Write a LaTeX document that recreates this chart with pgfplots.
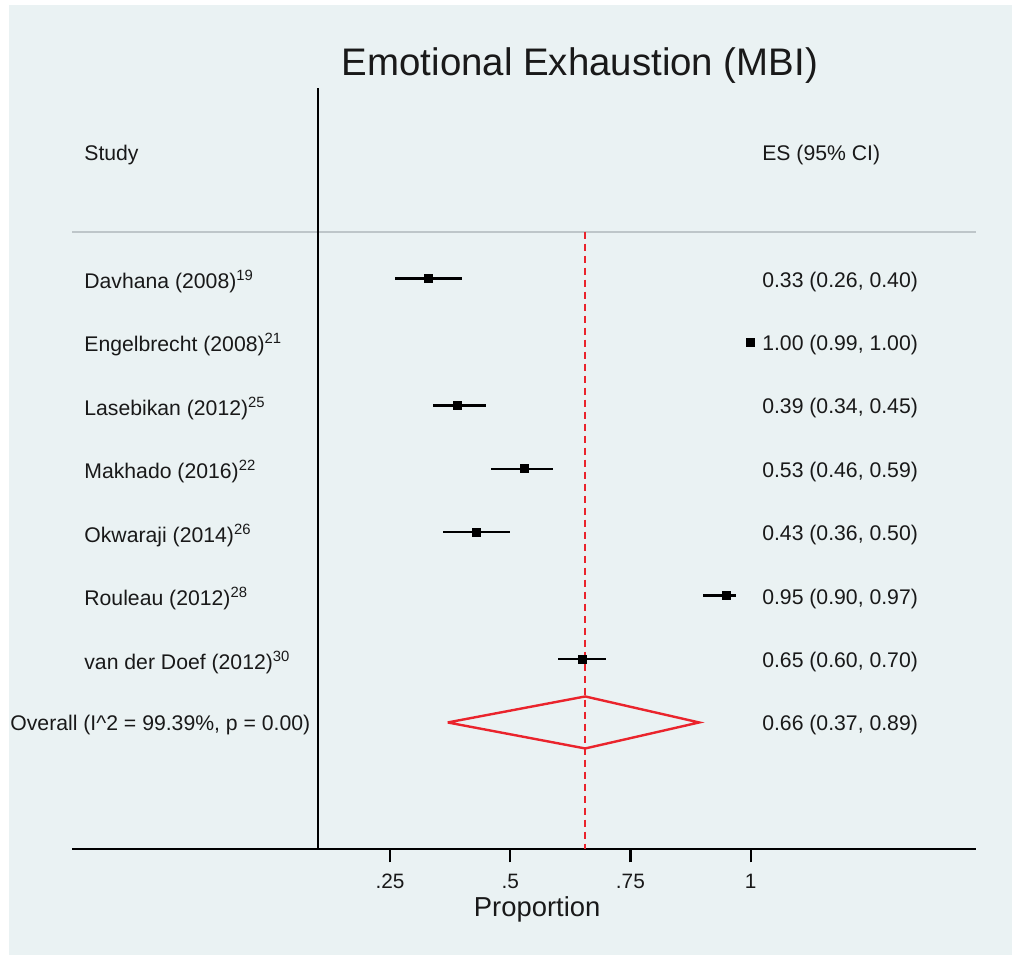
\documentclass[border=0pt]{standalone}
\usepackage{pgfplots}
\pgfplotsset{compat=1.18}
\usepackage{pgfplotstable}
\usepackage{fontspec}
\setmainfont{Liberation Sans}
\definecolor{bgblue}{RGB}{234,242,243}
\definecolor{sred}{RGB}{234,36,44}
\definecolor{sgray}{RGB}{190,198,201}
\definecolor{txt}{RGB}{25,25,25}

\pgfplotstableread{
row es em ep
-2 0.33 0.07 0.07
-3 1.00 0.01 0.00
-4 0.39 0.05 0.06
-5 0.53 0.07 0.06
-6 0.43 0.07 0.07
-7 0.95 0.05 0.02
-8 0.65 0.05 0.05
}\studies

\begin{document}
\begin{tikzpicture}
\fill[white] (-36.15pt,-53.85pt) rectangle (472.85pt,424.65pt);
\fill[bgblue] (-31.65pt,-52.85pt) rectangle (469.85pt,422.15pt);
\begin{axis}[
  at={(0,0)}, anchor=south west, scale only axis,
  width=451.85pt, height=380.5pt,
  xmin=-0.4108, xmax=1.4688, ymin=-11, ymax=1,
  clip=false,
  axis x line*=bottom, axis y line=none,
  axis line style={black, line width=1.1pt},
  xtick={0.25,0.5,0.75,1}, xticklabels={.25,.5,.75,1},
  ytick=\empty,
  tick align=outside, major tick length=6.5pt,
  tick style={black, line width=1.1pt},
  xticklabel style={font=\fontsize{10.4}{12}\selectfont, text=txt, yshift=-2.5pt},
  /pgf/number format/assume math mode=true,
]
% gray header line
\addplot[sgray, line width=1pt] coordinates {(-0.4108,-1.26) (1.4688,-1.26)};
% black vertical line
\addplot[black, line width=1.1pt] coordinates {(0.1,1) (0.1,-11)};
% red dashed overall line
\addplot[sred, line width=1.2pt, dash pattern=on 3.5pt off 2.5pt] coordinates {(0.656,-1.26) (0.656,-11)};
% studies
\addplot[black, only marks, mark=square*, mark size=2pt,
  error bars/.cd, x dir=both, x explicit, error mark=none,
  error bar style={black, line width=1.25pt}]
  table[x=es, y=row, x error minus=em, x error plus=ep] {\studies};
% overall diamond
\addplot[sred, line width=1.2pt, line join=miter] coordinates {(0.37,-9) (0.656,-8.59) (0.893,-9) (0.656,-9.41) (0.37,-9)};

\begin{scope}[every node/.style={font=\fontsize{10.6}{12}\selectfont, text=txt, anchor=west, inner sep=0pt, yshift=-1.5pt}]
\node at (axis cs:-0.3865,0) {Study};
\node at (axis cs:1.0235,0) {ES (95\% CI)};
\node at (axis cs:-0.3865,-2) {Davhana (2008)\textsuperscript{19}};
\node at (axis cs:-0.3865,-3) {Engelbrecht (2008)\textsuperscript{21}};
\node at (axis cs:-0.3865,-4) {Lasebikan (2012)\textsuperscript{25}};
\node at (axis cs:-0.3865,-5) {Makhado (2016)\textsuperscript{22}};
\node at (axis cs:-0.3865,-6) {Okwaraji (2014)\textsuperscript{26}};
\node at (axis cs:-0.3865,-7) {Rouleau (2012)\textsuperscript{28}};
\node at (axis cs:-0.3865,-8) {van der Doef (2012)\textsuperscript{30}};
\node at (axis cs:-0.5404,-9) {Overall (I\^{}2 = 99.39\%, p = 0.00)};
\node at (axis cs:1.0235,-2) {0.33 (0.26, 0.40)};
\node at (axis cs:1.0235,-3) {1.00 (0.99, 1.00)};
\node at (axis cs:1.0235,-4) {0.39 (0.34, 0.45)};
\node at (axis cs:1.0235,-5) {0.53 (0.46, 0.59)};
\node at (axis cs:1.0235,-6) {0.43 (0.36, 0.50)};
\node at (axis cs:1.0235,-7) {0.95 (0.90, 0.97)};
\node at (axis cs:1.0235,-8) {0.65 (0.60, 0.70)};
\node at (axis cs:1.0235,-9) {0.66 (0.37, 0.89)};
\end{scope}
\node[font=\fontsize{19.2}{22}\selectfont, text=txt, inner sep=0pt, yshift=-1.5pt] at (axis cs:0.645,1.40) {Emotional Exhaustion (MBI)};
\node[font=\fontsize{13.7}{16}\selectfont, text=txt, inner sep=0pt, yshift=-2pt] at (axis cs:0.556,-11.89) {Proportion};
\end{axis}
\end{tikzpicture}
\end{document}
